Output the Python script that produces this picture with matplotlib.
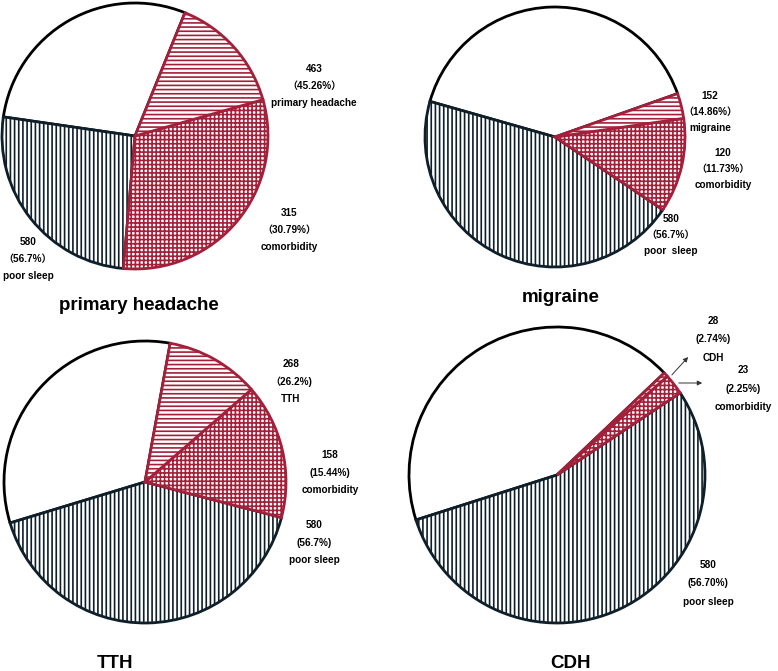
import matplotlib
matplotlib.use("Agg")
import matplotlib.pyplot as plt

plt.rcParams['font.family'] = ['Liberation Sans', 'Noto Sans CJK SC', 'DejaVu Sans']
plt.rcParams['hatch.linewidth'] = 1.2

# total sample and the three counts of each panel
total = 1023
titles = ["primary headache", "migraine", "TTH", "CDH"]
headache = [463, 152, 268, 28]
comorbid = [315, 120, 158, 23]
poor_sleep = [580, 580, 580, 580]

head_pct = ["（45.26%）", "（14.86%）", "（26.2%)", "(2.74%)"]
como_pct = ["（30.79%）", "（11.73%）", "(15.44%)", "(2.25%)"]
sleep_pct = ["（56.7%）", "（56.7%）", "(56.7%)", "(56.70%)"]
head_names = ["primary headache", "migraine", "TTH", "CDH"]
sleep_names = ["poor sleep", "poor  sleep", "poor sleep", "poor sleep"]

# layout (pixels, origin top-left)
W, H = 778, 671
centers = [(135, 136), (555, 137), (145, 482), (557, 475)]
radii = [133, 130, 141, 148]
start = [-95, -34, -14.6, 33.7]
title_pos = [(139, 306), (561, 298), (115, 663), (571, 663)]
head_lab = [(314, 69), (710, 96), (291, 364), (713, 321)]
como_lab = [(289, 213), (723, 153), (330, 455), (743, 370)]
sleep_lab = [(28, 242), (671, 219), (314, 525), (708, 565)]
line_gap = [17, 16, 17.5, 18.5]

RED = '#a3203a'
NAVY = '#0f1f2a'

fig = plt.figure(figsize=(W / 100, H / 100), dpi=100)
ax = fig.add_axes([0, 0, 1, 1])

for i in range(4):
    only_head = headache[i] - comorbid[i]
    neither = total - poor_sleep[i] - headache[i] + comorbid[i]
    only_sleep = poor_sleep[i] - comorbid[i]
    cx, cy = centers[i]
    wedges, _ = ax.pie(
        [comorbid[i], only_head, neither, only_sleep],
        startangle=start[i], counterclock=True,
        center=(cx, H - cy), radius=radii[i],
        colors=['white'] * 4,
        wedgeprops=dict(linewidth=2.0),
    )
    wedges[0].set(edgecolor=RED, hatch='++++', zorder=4)
    wedges[1].set(edgecolor=RED, hatch='----', zorder=4)
    wedges[2].set(edgecolor='black', zorder=2)
    wedges[3].set(edgecolor=NAVY, hatch='||||', zorder=3)

    tx, ty = title_pos[i]
    ax.text(tx, H - ty, titles[i], ha='center', va='center',
            fontsize=13.5, fontweight='bold')

    g = line_gap[i]
    for (lx, ly), lines in [
        (head_lab[i], [str(headache[i]), head_pct[i], head_names[i]]),
        (como_lab[i], [str(comorbid[i]), como_pct[i], 'comorbidity']),
        (sleep_lab[i], [str(poor_sleep[i]), sleep_pct[i], sleep_names[i]]),
    ]:
        for k, s in enumerate(lines):
            ax.text(lx, H - (ly + k * g), s, ha='center', va='center',
                    fontsize=7.2, fontweight='bold')

# arrows pointing at the thin CDH slices
ax.annotate('', xy=(690, H - 355), xytext=(670, H - 377),
            arrowprops=dict(arrowstyle='-|>', color='#333333', lw=0.7,
                            mutation_scale=7))
ax.annotate('', xy=(705, H - 383), xytext=(676, H - 383),
            arrowprops=dict(arrowstyle='-|>', color='#333333', lw=0.7,
                            mutation_scale=7))

ax.set_xlim(0, W)
ax.set_ylim(0, H)
ax.set_aspect('equal')
ax.axis('off')

fig.savefig('out.png', dpi=100, facecolor='white')
